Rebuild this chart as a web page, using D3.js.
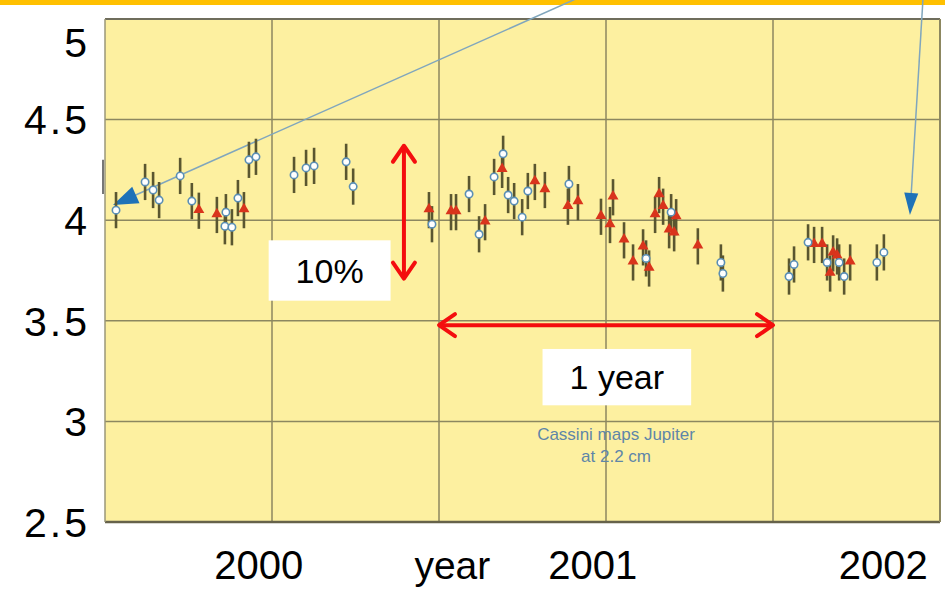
<!DOCTYPE html>
<html>
<head>
<meta charset="utf-8">
<script src="https://cdn.jsdelivr.net/npm/d3@7"></script>
<style>
  body { margin: 0; background: #fff; }
  svg { display: block; font-family: "Liberation Sans", Arial, sans-serif; }
</style>
</head>
<body>
<div id="chart"></div>
<script>
// open circles (year, flux)
const circleYears = [1999.533, 1999.620, 1999.644, 1999.662, 1999.725, 1999.760, 1999.862, 1999.859, 1999.880, 1999.898, 1999.931, 1999.952,
  2000.066, 2000.102, 2000.126, 2000.222, 2000.243, 2000.479, 2000.590, 2000.620, 2000.665, 2000.692, 2000.707, 2000.725, 2000.749, 2000.766,
  2000.889, 2001.120, 2001.195, 2001.344, 2001.350, 2001.548, 2001.563, 2001.605, 2001.662, 2001.698, 2001.713, 2001.811, 2001.832];
const circleValues = [4.05, 4.19, 4.15, 4.10, 4.22, 4.095, 4.04, 3.97, 3.965, 4.11, 4.30, 4.315,
  4.225, 4.26, 4.27, 4.29, 4.167, 3.98, 4.13, 3.93, 4.215, 4.33, 4.125, 4.095, 4.015, 4.145,
  4.18, 3.81, 4.04, 3.79, 3.735, 3.72, 3.78, 3.89, 3.79, 3.79, 3.72, 3.79, 3.84];

// red triangles (year, flux)
const triangleYears = [1999.781, 1999.835, 1999.916, 2000.470, 2000.536, 2000.551, 2000.638, 2000.689, 2000.787, 2000.817,
  2000.886, 2000.916, 2000.985, 2001.021, 2001.012, 2001.054, 2001.081, 2001.111, 2001.129, 2001.147, 2001.159, 2001.171,
  2001.189, 2001.204, 2001.210, 2001.275, 2001.623, 2001.647, 2001.671, 2001.680, 2001.692, 2001.731];
const triangleValues = [4.047, 4.026, 4.05, 4.05, 4.04, 4.04, 3.99, 4.25, 4.19, 4.15,
  4.067, 4.09, 4.017, 4.114, 3.976, 3.90, 3.79, 3.865, 3.76, 4.026, 4.125, 4.067,
  3.95, 3.935, 4.015, 3.87, 3.877, 3.877, 3.735, 3.835, 3.82, 3.79];

const errorBar = 0.09;

const yTicks = [5, 4.5, 4, 3.5, 3, 2.5];
const yTickLabels = ["5", "4.5", "4", "3.5", "3", "2.5"];
const xGrid = [2000, 2000.5, 2001, 2001.5];
const xLabelPos = [1999.96, 2000.96, 2001.83];
const xLabels = ["2000", "2001", "2002"];

const width = 945, height = 589;

const svg = d3.select("#chart").append("svg")
  .attr("width", width)
  .attr("height", height);

const x = d3.scaleLinear().domain([1999.5, 2002]).range([105, 940]);
const y = d3.scaleLinear().domain([2.5, 5]).range([522, 19]);

// orange bar on top
svg.append("rect").attr("x", 0).attr("y", 0).attr("width", width).attr("height", 5).attr("fill", "#ffc000");

// plot background
svg.append("rect")
  .attr("x", x(1999.5)).attr("y", y(5))
  .attr("width", x(2002) - x(1999.5)).attr("height", y(2.5) - y(5))
  .attr("fill", "#fdf0a0");

// grid
svg.append("g").selectAll("line").data(xGrid).enter().append("line")
  .attr("x1", d => x(d)).attr("x2", d => x(d))
  .attr("y1", y(5)).attr("y2", y(2.5))
  .attr("stroke", "#8c8760").attr("stroke-width", 1.5);
svg.append("g").selectAll("line").data([4.5, 4, 3.5, 3]).enter().append("line")
  .attr("x1", x(1999.5)).attr("x2", x(2002))
  .attr("y1", d => y(d)).attr("y2", d => y(d))
  .attr("stroke", "#8c8760").attr("stroke-width", 1.5);

// frame
svg.append("line").attr("x1", x(1999.5)).attr("x2", x(2002)).attr("y1", y(5)).attr("y2", y(5))
  .attr("stroke", "#6f6d5c").attr("stroke-width", 2);
svg.append("line").attr("x1", x(1999.5)).attr("x2", x(2002)).attr("y1", y(2.5)).attr("y2", y(2.5))
  .attr("stroke", "#66624a").attr("stroke-width", 2.5);
svg.append("line").attr("x1", x(1999.5)).attr("x2", x(1999.5)).attr("y1", y(5)).attr("y2", y(2.5))
  .attr("stroke", "#9a9778").attr("stroke-width", 1.5);
svg.append("line").attr("x1", x(2002)).attr("x2", x(2002)).attr("y1", y(5)).attr("y2", y(2.5))
  .attr("stroke", "#8c8760").attr("stroke-width", 2);
// small leftover tick on the left edge
svg.append("line").attr("x1", x(1999.5) - 2).attr("x2", x(1999.5) - 2).attr("y1", y(4.3)).attr("y2", y(4.13))
  .attr("stroke", "#777").attr("stroke-width", 2);

// y labels
svg.append("g").selectAll("text").data(yTicks).enter().append("text")
  .attr("x", 90)
  .attr("y", d => Math.max(y(d), 42))
  .attr("dy", "0.36em")
  .attr("text-anchor", "end")
  .attr("font-size", 41)
  .attr("letter-spacing", 3)
  .attr("fill", "#000")
  .text((d, i) => yTickLabels[i]);

// x labels
svg.append("g").selectAll("text").data(xLabelPos).enter().append("text")
  .attr("x", d => x(d))
  .attr("y", 579)
  .attr("text-anchor", "middle")
  .attr("font-size", 40)
  .attr("fill", "#000")
  .text((d, i) => xLabels[i]);

svg.append("text")
  .attr("x", x(2000.54)).attr("y", 579)
  .attr("text-anchor", "middle")
  .attr("font-size", 39)
  .text("year");

// Cassini note
svg.append("text").attr("x", x(2001.03)).attr("y", 440)
  .attr("text-anchor", "middle").attr("font-size", 17).attr("fill", "#5f86a8")
  .text("Cassini maps Jupiter");
svg.append("text").attr("x", x(2001.03)).attr("y", 462)
  .attr("text-anchor", "middle").attr("font-size", 17).attr("fill", "#5f86a8")
  .text("at 2.2 cm");

// blue pointer lines
const pointers = [
  { from: [2000.91, 5.1], to: [1999.524, 4.075] },
  { from: [2001.949, 5.1], to: [2001.910, 4.026] }
];
const ptr = svg.append("g");
pointers.forEach((p, i) => {
  const x1 = x(p.from[0]), y1 = y(p.from[1]), x2 = x(p.to[0]), y2 = y(p.to[1]);
  const ang = Math.atan2(y2 - y1, x2 - x1);
  const len = i === 0 ? 25 : 22, half = i === 0 ? 9 : 7;
  ptr.append("line")
    .attr("x1", x1).attr("y1", y1).attr("x2", x2 - Math.cos(ang) * len * 0.6).attr("y2", y2 - Math.sin(ang) * len * 0.6)
    .attr("stroke", "#80a6bd").attr("stroke-width", 1.5);
  const bx = x2 - Math.cos(ang) * len, by = y2 - Math.sin(ang) * len;
  const px = -Math.sin(ang) * half, py = Math.cos(ang) * half;
  ptr.append("path")
    .attr("d", `M${x2},${y2}L${bx + px},${by + py}L${bx - px},${by - py}Z`)
    .attr("fill", "#1f72b8");
});

// error bars
const circles = circleYears.map((t, i) => ({ t, v: circleValues[i] }));
const triangles = triangleYears.map((t, i) => ({ t, v: triangleValues[i] }));

svg.append("g").selectAll("line").data(circles.concat(triangles)).enter().append("line")
  .attr("x1", d => x(d.t)).attr("x2", d => x(d.t))
  .attr("y1", d => y(d.v + errorBar)).attr("y2", d => y(d.v - errorBar))
  .attr("stroke", "#5a5630").attr("stroke-width", 2.6);

svg.append("g").selectAll("path").data(triangles).enter().append("path")
  .attr("transform", d => `translate(${x(d.t)},${y(d.v) - 1})`)
  .attr("d", d3.symbol(d3.symbolTriangle).size(52))
  .attr("fill", "#d9341c");

svg.append("g").selectAll("circle").data(circles).enter().append("circle")
  .attr("cx", d => x(d.t)).attr("cy", d => y(d.v))
  .attr("r", 3.7)
  .attr("fill", "#fff")
  .attr("stroke", "#5b8fb5")
  .attr("stroke-width", 1.6);

// red double arrows
const red = "#f40e0e";
function doubleArrow(x1, y1, x2, y2) {
  const g = svg.append("g");
  g.append("line").attr("x1", x1).attr("y1", y1).attr("x2", x2).attr("y2", y2)
    .attr("stroke", red).attr("stroke-width", 4);
  const ang = Math.atan2(y2 - y1, x2 - x1);
  [[x1, y1, ang + Math.PI], [x2, y2, ang]].forEach(([hx, hy, a]) => {
    const L = 16, W = 11;
    const bx = hx - Math.cos(a) * L, by = hy - Math.sin(a) * L;
    const px = -Math.sin(a) * W, py = Math.cos(a) * W;
    g.append("path")
      .attr("d", `M${bx + px},${by + py}L${hx},${hy}L${bx - px},${by - py}`)
      .attr("fill", "none").attr("stroke", red).attr("stroke-width", 4)
      .attr("stroke-linecap", "round").attr("stroke-linejoin", "round");
  });
}
doubleArrow(x(2000.395), y(4.37), x(2000.395), y(3.71));
doubleArrow(x(2000.5), y(3.478), x(2001.5), y(3.478));

// white label boxes
const boxes = [
  { t0: 1999.99, t1: 2000.355, v0: 3.6, v1: 3.9, label: "10%" },
  { t0: 2000.81, t1: 2001.255, v0: 3.08, v1: 3.36, label: "1 year" }
];
boxes.forEach(b => {
  svg.append("rect")
    .attr("x", x(b.t0)).attr("y", y(b.v1))
    .attr("width", x(b.t1) - x(b.t0)).attr("height", y(b.v0) - y(b.v1))
    .attr("fill", "#fff");
  svg.append("text")
    .attr("x", (x(b.t0) + x(b.t1)) / 2).attr("y", (y(b.v0) + y(b.v1)) / 2)
    .attr("dy", "0.36em").attr("text-anchor", "middle")
    .attr("font-size", 34).attr("fill", "#000")
    .text(b.label);
});
</script>
</body>
</html>
